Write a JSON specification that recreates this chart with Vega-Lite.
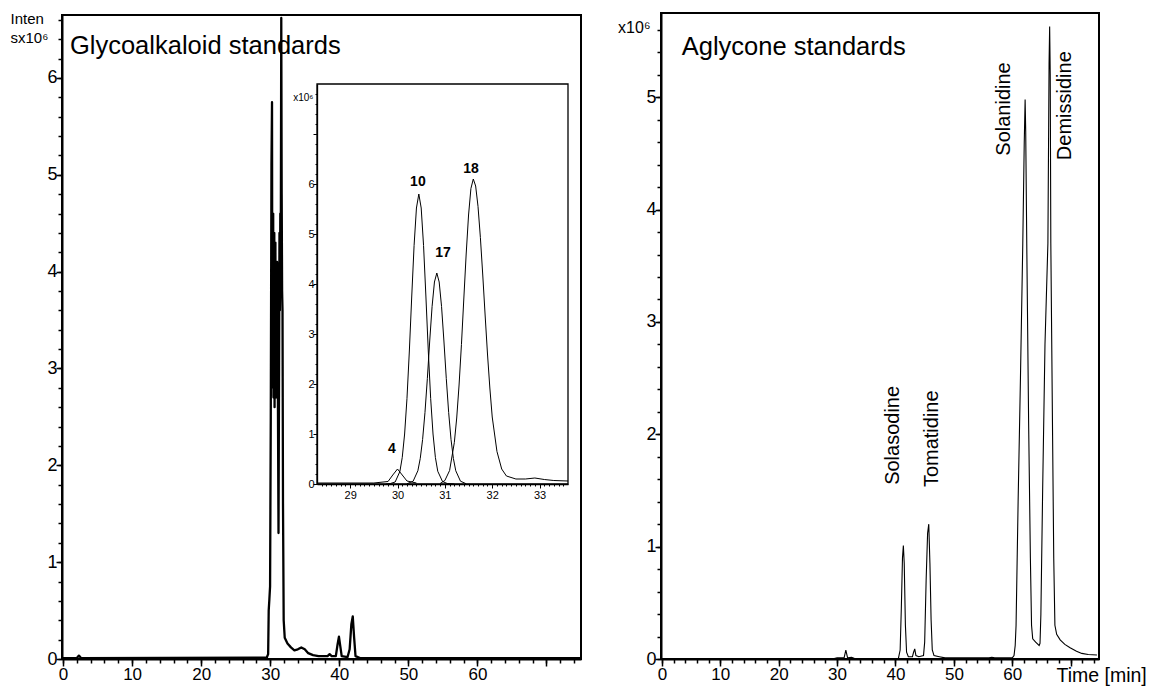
{
  "$schema": "https://vega.github.io/schema/vega-lite/v6.json",
  "width": 1156,
  "height": 688,
  "autosize": {"type": "none"},
  "padding": 0,
  "background": "white",
  "config": {
    "view": {"stroke": null},
    "axis": {"labelFont": "Liberation Sans", "titleFont": "Liberation Sans", "domainColor": "black", "tickColor": "black", "labelColor": "black", "titleColor": "black", "grid": false, "labelOverlap": false, "labelFlush": false, "titleFontWeight": "normal"},
    "text": {"font": "Liberation Sans", "color": "black"}
  },
  "datasets": {
    "frame": [{}],
    "main": [
      {"t": -0.1, "v": 0.01}, {"t": 2.0, "v": 0.01}, {"t": 2.3, "v": 0.035}, {"t": 2.6, "v": 0.01},
      {"t": 29.5, "v": 0.015}, {"t": 29.7, "v": 0.05}, {"t": 29.78, "v": 0.5}, {"t": 29.88, "v": 0.62},
      {"t": 29.98, "v": 0.75}, {"t": 30.08, "v": 2.5}, {"t": 30.18, "v": 5.1}, {"t": 30.26, "v": 5.75},
      {"t": 30.31, "v": 3.0}, {"t": 30.35, "v": 4.4}, {"t": 30.39, "v": 2.8}, {"t": 30.43, "v": 4.6},
      {"t": 30.47, "v": 2.7}, {"t": 30.51, "v": 4.2}, {"t": 30.55, "v": 2.9}, {"t": 30.59, "v": 4.4},
      {"t": 30.63, "v": 2.6}, {"t": 30.67, "v": 4.1}, {"t": 30.71, "v": 2.8}, {"t": 30.75, "v": 4.3},
      {"t": 30.79, "v": 2.7}, {"t": 30.83, "v": 3.9}, {"t": 30.87, "v": 2.9}, {"t": 30.91, "v": 4.0},
      {"t": 30.95, "v": 2.7}, {"t": 30.99, "v": 4.1}, {"t": 31.03, "v": 2.9}, {"t": 31.07, "v": 3.8},
      {"t": 31.12, "v": 2.6}, {"t": 31.2, "v": 1.3}, {"t": 31.28, "v": 3.0}, {"t": 31.34, "v": 4.4},
      {"t": 31.4, "v": 3.6}, {"t": 31.46, "v": 4.6}, {"t": 31.52, "v": 3.9}, {"t": 31.6, "v": 6.62},
      {"t": 31.66, "v": 4.8}, {"t": 31.72, "v": 3.8}, {"t": 31.78, "v": 3.6}, {"t": 31.85, "v": 1.6},
      {"t": 31.95, "v": 0.4},
      {"t": 32.1, "v": 0.22}, {"t": 32.5, "v": 0.16}, {"t": 33.0, "v": 0.12}, {"t": 33.5, "v": 0.09},
      {"t": 34.0, "v": 0.1}, {"t": 34.5, "v": 0.12}, {"t": 35.0, "v": 0.1}, {"t": 35.5, "v": 0.06},
      {"t": 36.2, "v": 0.04}, {"t": 37.0, "v": 0.03}, {"t": 38.3, "v": 0.03}, {"t": 38.6, "v": 0.05},
      {"t": 38.9, "v": 0.03}, {"t": 39.5, "v": 0.03}, {"t": 39.75, "v": 0.15}, {"t": 39.95, "v": 0.23},
      {"t": 40.15, "v": 0.13}, {"t": 40.35, "v": 0.03}, {"t": 41.2, "v": 0.02}, {"t": 41.5, "v": 0.1},
      {"t": 41.75, "v": 0.36}, {"t": 41.95, "v": 0.44}, {"t": 42.15, "v": 0.22}, {"t": 42.35, "v": 0.03},
      {"t": 43.0, "v": 0.01}, {"t": 74.9, "v": 0.01}
    ],
    "inset": [
      {"s": "4", "t": 28.3, "v": 0.02}, {"s": "4", "t": 29.5, "v": 0.02}, {"s": "4", "t": 29.8, "v": 0.05},
      {"s": "4", "t": 29.9, "v": 0.18}, {"s": "4", "t": 30.0, "v": 0.3}, {"s": "4", "t": 30.1, "v": 0.18},
      {"s": "4", "t": 30.2, "v": 0.06}, {"s": "4", "t": 30.4, "v": 0.02},
      {"s": "10", "t": 29.75, "v": 0.0}, {"s": "10", "t": 29.85, "v": 0.01}, {"s": "10", "t": 29.95, "v": 0.04},
      {"s": "10", "t": 30.05, "v": 0.25}, {"s": "10", "t": 30.1, "v": 0.53}, {"s": "10", "t": 30.15, "v": 1.0},
      {"s": "10", "t": 30.2, "v": 1.71}, {"s": "10", "t": 30.25, "v": 2.66}, {"s": "10", "t": 30.3, "v": 3.74},
      {"s": "10", "t": 30.35, "v": 4.77}, {"s": "10", "t": 30.4, "v": 5.52}, {"s": "10", "t": 30.45, "v": 5.8},
      {"s": "10", "t": 30.5, "v": 5.52}, {"s": "10", "t": 30.55, "v": 4.77}, {"s": "10", "t": 30.6, "v": 3.74},
      {"s": "10", "t": 30.65, "v": 2.66}, {"s": "10", "t": 30.7, "v": 1.71}, {"s": "10", "t": 30.75, "v": 1.0},
      {"s": "10", "t": 30.8, "v": 0.53}, {"s": "10", "t": 30.85, "v": 0.255}, {"s": "10", "t": 30.95, "v": 0.05},
      {"s": "10", "t": 31.05, "v": 0.01}, {"s": "10", "t": 31.2, "v": 0.0},
      {"s": "17", "t": 30.2, "v": 0.005}, {"s": "17", "t": 30.33, "v": 0.056}, {"s": "17", "t": 30.43, "v": 0.265},
      {"s": "17", "t": 30.48, "v": 0.51}, {"s": "17", "t": 30.53, "v": 0.89}, {"s": "17", "t": 30.58, "v": 1.43},
      {"s": "17", "t": 30.63, "v": 2.11}, {"s": "17", "t": 30.68, "v": 2.86}, {"s": "17", "t": 30.73, "v": 3.55},
      {"s": "17", "t": 30.78, "v": 4.04}, {"s": "17", "t": 30.83, "v": 4.22}, {"s": "17", "t": 30.88, "v": 4.04},
      {"s": "17", "t": 30.93, "v": 3.55}, {"s": "17", "t": 30.98, "v": 2.86}, {"s": "17", "t": 31.03, "v": 2.11},
      {"s": "17", "t": 31.08, "v": 1.43}, {"s": "17", "t": 31.13, "v": 0.89}, {"s": "17", "t": 31.18, "v": 0.51},
      {"s": "17", "t": 31.23, "v": 0.265}, {"s": "17", "t": 31.33, "v": 0.056}, {"s": "17", "t": 31.45, "v": 0.005},
      {"s": "18", "t": 30.9, "v": 0.01}, {"s": "18", "t": 31.0, "v": 0.07}, {"s": "18", "t": 31.1, "v": 0.27},
      {"s": "18", "t": 31.2, "v": 0.83}, {"s": "18", "t": 31.25, "v": 1.32}, {"s": "18", "t": 31.3, "v": 1.98},
      {"s": "18", "t": 31.35, "v": 2.79}, {"s": "18", "t": 31.4, "v": 3.7}, {"s": "18", "t": 31.45, "v": 4.6},
      {"s": "18", "t": 31.5, "v": 5.38}, {"s": "18", "t": 31.55, "v": 5.91}, {"s": "18", "t": 31.6, "v": 6.1},
      {"s": "18", "t": 31.65, "v": 5.96}, {"s": "18", "t": 31.7, "v": 5.55}, {"s": "18", "t": 31.75, "v": 4.93},
      {"s": "18", "t": 31.8, "v": 4.18}, {"s": "18", "t": 31.85, "v": 3.38}, {"s": "18", "t": 31.9, "v": 2.6},
      {"s": "18", "t": 31.95, "v": 1.92}, {"s": "18", "t": 32.0, "v": 1.34}, {"s": "18", "t": 32.1, "v": 0.65},
      {"s": "18", "t": 32.2, "v": 0.3}, {"s": "18", "t": 32.3, "v": 0.16}, {"s": "18", "t": 32.5, "v": 0.1},
      {"s": "18", "t": 32.7, "v": 0.1}, {"s": "18", "t": 32.9, "v": 0.12}, {"s": "18", "t": 33.1, "v": 0.09},
      {"s": "18", "t": 33.3, "v": 0.07}, {"s": "18", "t": 33.6, "v": 0.06}
    ],
    "right": [
      {"t": -0.1, "v": 0.005}, {"t": 29.5, "v": 0.005}, {"t": 30.0, "v": 0.01}, {"t": 31.2, "v": 0.01},
      {"t": 31.5, "v": 0.08}, {"t": 31.8, "v": 0.01}, {"t": 32.5, "v": 0.015}, {"t": 33.0, "v": 0.005},
      {"t": 40.5, "v": 0.005}, {"t": 40.8, "v": 0.08}, {"t": 41.0, "v": 0.45}, {"t": 41.2, "v": 0.9},
      {"t": 41.35, "v": 1.01}, {"t": 41.5, "v": 0.85}, {"t": 41.7, "v": 0.3}, {"t": 41.9, "v": 0.06},
      {"t": 42.2, "v": 0.02}, {"t": 42.9, "v": 0.02}, {"t": 43.1, "v": 0.06}, {"t": 43.3, "v": 0.09},
      {"t": 43.5, "v": 0.03}, {"t": 44.0, "v": 0.02}, {"t": 44.8, "v": 0.03}, {"t": 45.0, "v": 0.15},
      {"t": 45.25, "v": 0.7}, {"t": 45.5, "v": 1.12}, {"t": 45.7, "v": 1.2}, {"t": 45.9, "v": 0.85},
      {"t": 46.1, "v": 0.35}, {"t": 46.3, "v": 0.08}, {"t": 46.6, "v": 0.03}, {"t": 47.5, "v": 0.02},
      {"t": 48.5, "v": 0.01}, {"t": 56.0, "v": 0.01}, {"t": 56.5, "v": 0.015}, {"t": 57.0, "v": 0.01},
      {"t": 60.0, "v": 0.01}, {"t": 60.3, "v": 0.03}, {"t": 60.5, "v": 0.12}, {"t": 60.65, "v": 0.3},
      {"t": 61.0, "v": 1.4}, {"t": 61.4, "v": 2.5}, {"t": 61.8, "v": 3.7}, {"t": 62.05, "v": 4.6},
      {"t": 62.2, "v": 4.98}, {"t": 62.3, "v": 4.7}, {"t": 62.5, "v": 3.6}, {"t": 62.8, "v": 2.1},
      {"t": 63.1, "v": 0.9}, {"t": 63.3, "v": 0.3}, {"t": 63.5, "v": 0.18}, {"t": 64.0, "v": 0.15},
      {"t": 64.6, "v": 0.12}, {"t": 64.75, "v": 0.14}, {"t": 64.9, "v": 0.4}, {"t": 65.2, "v": 1.5},
      {"t": 65.6, "v": 2.8}, {"t": 66.1, "v": 3.7}, {"t": 66.3, "v": 5.3}, {"t": 66.4, "v": 5.63},
      {"t": 66.5, "v": 5.2}, {"t": 66.6, "v": 3.7}, {"t": 66.9, "v": 2.0}, {"t": 67.1, "v": 0.9},
      {"t": 67.3, "v": 0.3}, {"t": 67.6, "v": 0.22}, {"t": 68.2, "v": 0.17}, {"t": 69.0, "v": 0.13},
      {"t": 69.9, "v": 0.1}, {"t": 71.0, "v": 0.07}, {"t": 71.9, "v": 0.05}, {"t": 73.0, "v": 0.04},
      {"t": 74.5, "v": 0.035}
    ],
    "titleL": [{"label": "Glycoalkaloid standards", "t": 1.0, "v": 6.25}],
    "titleR": [{"label": "Aglycone standards", "t": 3.4, "v": 5.38}],
    "labelsI": [
      {"label": "4", "t": 29.88, "v": 0.62},
      {"label": "10", "t": 30.43, "v": 5.96},
      {"label": "17", "t": 30.96, "v": 4.54},
      {"label": "18", "t": 31.55, "v": 6.22}
    ],
    "labelsR": [
      {"label": "Solasodine", "t": 39.55, "v": 1.55},
      {"label": "Tomatidine", "t": 46.2, "v": 1.53},
      {"label": "Solanidine", "t": 58.6, "v": 4.48},
      {"label": "Demissidine", "t": 69.0, "v": 4.44}
    ]
  },
  "layer": [
    {
      "resolve": {"axis": {"x": "independent", "y": "independent"}},
      "layer": [
        {
          "data": {"name": "main"},
          "mark": {"type": "line", "color": "black", "strokeWidth": 2.3, "strokeJoin": "round"},
          "encoding": {
            "x": {
              "field": "t", "type": "quantitative",
              "scale": {"domain": [-0.15, 75], "range": [62, 581], "nice": false, "zero": false},
              "axis": {
                "orient": "bottom", "offset": -29, "title": null, "zindex": 1, "labelOverlap": false,
                "values": [0, 10, 20, 30, 40, 50, 60, 70],
                "labelExpr": "datum.value <= 60 ? datum.label : ''",
                "tickSize": 7, "tickWidth": 1.5, "domainWidth": 2, "labelFontSize": 17, "labelPadding": 0
              }
            },
            "y": {
              "field": "v", "type": "quantitative",
              "scale": {"domain": [0, 6.65], "range": [659, 15], "nice": false, "zero": false},
              "axis": {
                "orient": "left", "offset": -62, "zindex": 1, "labelOverlap": false,
                "values": [0, 1, 2, 3, 4, 5, 6],
                "tickSize": 6, "tickWidth": 1.5, "domainWidth": 2, "labelFontSize": 18, "labelPadding": -1,
                "title": ["Inten", "sx10⁶"], "titleAngle": 0, "titleAlign": "left", "titleBaseline": "alphabetic",
                "titleX": -52, "titleY": 23, "titleFontSize": 15, "titleLineHeight": 19
              }
            }
          }
        },
        {
          "data": {"name": "frame"},
          "mark": {"type": "rect", "fill": null, "stroke": "black", "strokeWidth": 2},
          "encoding": {
            "x": {"datum": -0.15, "type": "quantitative", "axis": {
              "orient": "bottom", "offset": -29, "title": null, "labels": false, "domain": false, "zindex": 1,
              "values": [0,2,4,6,8,10,12,14,16,18,20,22,24,26,28,30,32,34,36,38,40,42,44,46,48,50,52,54,56,58,60,62,64,66,68,70,72,74],
              "tickSize": 4, "tickWidth": 1.5}},
            "x2": {"datum": 75},
            "y": {"datum": 0, "type": "quantitative", "axis": {
              "orient": "left", "offset": -62, "title": null, "labels": false, "domain": false, "zindex": 1,
              "values": [0,0.2,0.4,0.6,0.8,1,1.2,1.4,1.6,1.8,2,2.2,2.4,2.6,2.8,3,3.2,3.4,3.6,3.8,4,4.2,4.4,4.6,4.8,5,5.2,5.4,5.6,5.8,6,6.2,6.4,6.6],
              "tickSize": 4, "tickWidth": 1.5}},
            "y2": {"datum": 6.65}
          }
        },
        {
          "data": {"name": "titleL"},
          "mark": {"type": "text", "fontSize": 25.5, "align": "left", "baseline": "alphabetic"},
          "encoding": {"x": {"field": "t", "type": "quantitative", "axis": null}, "y": {"field": "v", "type": "quantitative", "axis": null}, "text": {"field": "label"}}
        }
      ]
    },
    {
      "resolve": {"axis": {"x": "independent", "y": "independent"}},
      "layer": [
        {
          "data": {"name": "frame"},
          "mark": {"type": "rect", "fill": "white", "stroke": "black", "strokeWidth": 1.3},
          "encoding": {
            "x": {
              "datum": 28.3, "type": "quantitative",
              "scale": {"domain": [28.3, 33.6], "range": [317, 568], "nice": false, "zero": false},
              "axis": {
                "orient": "bottom", "offset": -204, "title": null, "zindex": 2, "labelOverlap": false,
                "values": [29, 30, 31, 32, 33],
                "tickSize": 4, "tickWidth": 1, "domainWidth": 1.3, "labelFontSize": 11, "labelPadding": 1
              }
            },
            "x2": {"datum": 33.6},
            "y": {
              "datum": 0, "type": "quantitative",
              "scale": {"domain": [0, 8], "range": [484, 84], "nice": false, "zero": false},
              "axis": {
                "orient": "left", "offset": -317, "zindex": 2, "labelOverlap": false,
                "values": [0, 1, 2, 3, 4, 5, 6, 7],
                "labelExpr": "datum.value <= 6 ? datum.label : ''",
                "tickSize": 4, "tickWidth": 1, "domainWidth": 1.3, "labelFontSize": 11, "labelPadding": -1,
                "title": "x10⁶", "titleAngle": 0, "titleAlign": "right", "titleBaseline": "alphabetic",
                "titleX": -4, "titleY": 100, "titleFontSize": 10
              }
            },
            "y2": {"datum": 8}
          }
        },
        {
          "data": {"name": "inset"},
          "mark": {"type": "line", "color": "black", "strokeWidth": 1},
          "encoding": {
            "x": {"field": "t", "type": "quantitative", "axis": {
              "orient": "bottom", "offset": -204, "title": null, "labels": false, "domain": false, "zindex": 2,
              "values": [28.4,28.5,28.6,28.7,28.8,28.9,29,29.1,29.2,29.3,29.4,29.5,29.6,29.7,29.8,29.9,30,30.1,30.2,30.3,30.4,30.5,30.6,30.7,30.8,30.9,31,31.1,31.2,31.3,31.4,31.5,31.6,31.7,31.8,31.9,32,32.1,32.2,32.3,32.4,32.5,32.6,32.7,32.8,32.9,33,33.1,33.2,33.3,33.4,33.5],
              "tickSize": 2, "tickWidth": 1}},
            "y": {"field": "v", "type": "quantitative", "axis": {
              "orient": "left", "offset": -317, "title": null, "labels": false, "domain": false, "zindex": 2,
              "values": [0,0.2,0.4,0.6,0.8,1,1.2,1.4,1.6,1.8,2,2.2,2.4,2.6,2.8,3,3.2,3.4,3.6,3.8,4,4.2,4.4,4.6,4.8,5,5.2,5.4,5.6,5.8,6,6.2,6.4,6.6,6.8,7,7.2,7.4,7.6,7.8],
              "tickSize": 2, "tickWidth": 1}},
            "detail": {"field": "s"}
          }
        },
        {
          "data": {"name": "labelsI"},
          "mark": {"type": "text", "fontSize": 14, "fontWeight": "bold", "align": "center", "baseline": "alphabetic"},
          "encoding": {"x": {"field": "t", "type": "quantitative", "axis": null}, "y": {"field": "v", "type": "quantitative", "axis": null}, "text": {"field": "label"}}
        }
      ]
    },
    {
      "resolve": {"axis": {"x": "independent", "y": "independent"}},
      "layer": [
        {
          "data": {"name": "right"},
          "mark": {"type": "line", "color": "black", "strokeWidth": 1.1},
          "encoding": {
            "x": {
              "field": "t", "type": "quantitative",
              "scale": {"domain": [-0.15, 74.85], "range": [661, 1099], "nice": false, "zero": false},
              "axis": {
                "orient": "bottom", "offset": -29, "zindex": 1, "labelOverlap": false,
                "values": [0, 10, 20, 30, 40, 50, 60, 70],
                "labelExpr": "datum.value <= 60 ? datum.label : ''",
                "tickSize": 7, "tickWidth": 1.5, "domainWidth": 2, "labelFontSize": 17, "labelPadding": 0,
                "title": "Time [min]", "titleAngle": 0, "titleAlign": "left", "titleBaseline": "alphabetic",
                "titleX": 1056, "titleY": 22, "titleFontSize": 19.5
              }
            },
            "y": {
              "field": "v", "type": "quantitative",
              "scale": {"domain": [0, 5.75], "range": [659, 13], "nice": false, "zero": false},
              "axis": {
                "orient": "left", "offset": -661, "zindex": 1, "labelOverlap": false,
                "values": [0, 1, 2, 3, 4, 5],
                "tickSize": 6, "tickWidth": 1.5, "domainWidth": 2, "labelFontSize": 18, "labelPadding": -1,
                "title": "x10⁶", "titleAngle": 0, "titleAlign": "right", "titleBaseline": "alphabetic",
                "titleX": -11, "titleY": 32, "titleFontSize": 16
              }
            }
          }
        },
        {
          "data": {"name": "frame"},
          "mark": {"type": "rect", "fill": null, "stroke": "black", "strokeWidth": 2},
          "encoding": {
            "x": {"datum": -0.15, "type": "quantitative", "axis": {
              "orient": "bottom", "offset": -29, "title": null, "labels": false, "domain": false, "zindex": 1,
              "values": [0,2,4,6,8,10,12,14,16,18,20,22,24,26,28,30,32,34,36,38,40,42,44,46,48,50,52,54,56,58,60,62,64,66,68,70,72,74],
              "tickSize": 4, "tickWidth": 1.5}},
            "x2": {"datum": 74.85},
            "y": {"datum": 0, "type": "quantitative", "axis": {
              "orient": "left", "offset": -661, "title": null, "labels": false, "domain": false, "zindex": 1,
              "values": [0,0.2,0.4,0.6,0.8,1,1.2,1.4,1.6,1.8,2,2.2,2.4,2.6,2.8,3,3.2,3.4,3.6,3.8,4,4.2,4.4,4.6,4.8,5,5.2,5.4,5.6],
              "tickSize": 4, "tickWidth": 1.5}},
            "y2": {"datum": 5.75}
          }
        },
        {
          "data": {"name": "titleR"},
          "mark": {"type": "text", "fontSize": 25.5, "align": "left", "baseline": "alphabetic"},
          "encoding": {"x": {"field": "t", "type": "quantitative", "axis": null}, "y": {"field": "v", "type": "quantitative", "axis": null}, "text": {"field": "label"}}
        },
        {
          "data": {"name": "labelsR"},
          "mark": {"type": "text", "fontSize": 20, "angle": 270, "align": "left", "baseline": "middle"},
          "encoding": {"x": {"field": "t", "type": "quantitative", "axis": null}, "y": {"field": "v", "type": "quantitative", "axis": null}, "text": {"field": "label"}}
        }
      ]
    }
  ],
  "resolve": {
    "scale": {"x": "independent", "y": "independent"},
    "axis": {"x": "independent", "y": "independent"}
  }
}
